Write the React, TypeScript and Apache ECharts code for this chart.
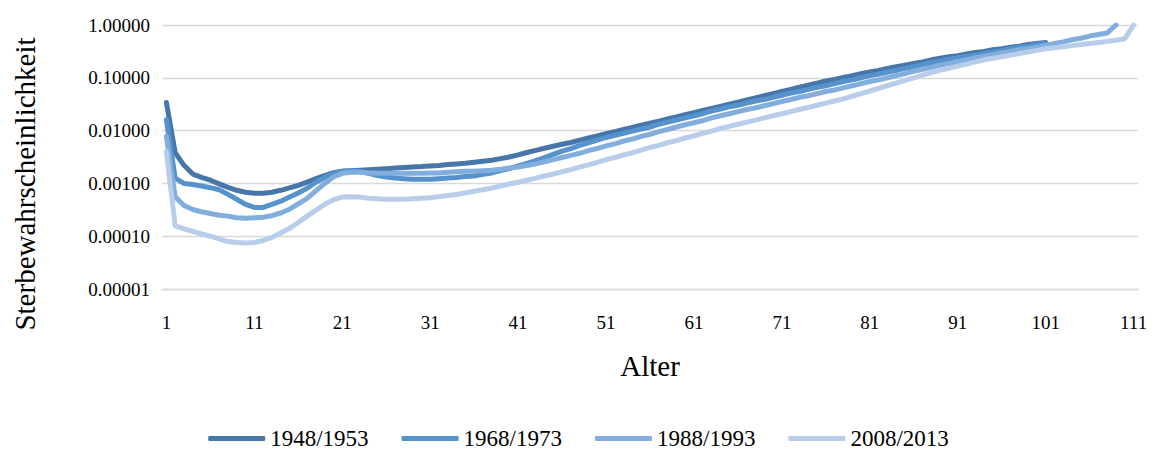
import React, { useEffect, useRef } from "react";
import * as echarts from "echarts";

const ages: string[] = Array.from({ length: 111 }, (_, i) => String(i + 1));

const seriesNames = ["1948/1953", "1968/1973", "1988/1993", "2008/2013"];
const seriesColors = ["#4676AA", "#5693CC", "#82AEDD", "#B7CDEA"];

const s1948 = [
  0.034, 0.0038, 0.0022, 0.0015, 0.0013, 0.00115, 0.00098, 0.00084, 0.00074, 0.00068,
  0.00065, 0.00065, 0.00068, 0.00074, 0.00082, 0.00092, 0.00106, 0.00123, 0.00141, 0.0016,
  0.0017, 0.00174, 0.00178, 0.00182, 0.00186, 0.0019, 0.00195, 0.002, 0.00204, 0.00208,
  0.00214, 0.00219, 0.00229, 0.00234, 0.0024, 0.00251, 0.00263, 0.00275, 0.00295, 0.00316,
  0.00347, 0.00385, 0.00422, 0.00462, 0.00505, 0.0055, 0.00595, 0.00661, 0.00724, 0.00794,
  0.0087, 0.0095, 0.0105, 0.0115, 0.0126, 0.0138, 0.0151, 0.0166, 0.0182, 0.02,
  0.0219, 0.024, 0.0263, 0.0288, 0.0316, 0.0347, 0.038, 0.0417, 0.0457, 0.0501,
  0.055, 0.0603, 0.0661, 0.0724, 0.0794, 0.0871, 0.0933, 0.102, 0.11, 0.12,
  0.129, 0.138, 0.151, 0.162, 0.174, 0.186, 0.2, 0.219, 0.234, 0.251,
  0.263, 0.282, 0.302, 0.316, 0.339, 0.355, 0.38, 0.398, 0.427, 0.447,
  0.468,
];

const s1968 = [
  0.016, 0.00126, 0.001, 0.00095, 0.00089, 0.00083, 0.00076, 0.00062, 0.0005, 0.0004,
  0.00035, 0.00035, 0.0004, 0.00046, 0.00055, 0.00066, 0.00081, 0.00105, 0.00129, 0.00155,
  0.0017, 0.00174, 0.0017, 0.00155, 0.00141, 0.00132, 0.00126, 0.00123, 0.0012, 0.0012,
  0.0012, 0.00123, 0.00126, 0.00129, 0.00135, 0.00138, 0.00148, 0.00158, 0.00174, 0.00191,
  0.00214, 0.0024, 0.00269, 0.00309, 0.00355, 0.00407, 0.00457, 0.00525, 0.00589, 0.00661,
  0.00741, 0.00813, 0.00891, 0.00977, 0.0107, 0.0117, 0.0132, 0.0145, 0.0158, 0.0174,
  0.0191, 0.0209, 0.0234, 0.0257, 0.0282, 0.0302, 0.0331, 0.0363, 0.0389, 0.0427,
  0.0468, 0.0513, 0.055, 0.0603, 0.0661, 0.0708, 0.0776, 0.0851, 0.0912, 0.1,
  0.11, 0.117, 0.129, 0.138, 0.151, 0.162, 0.178, 0.191, 0.209, 0.224,
  0.24, 0.257, 0.269, 0.288, 0.309, 0.331, 0.355, 0.38, 0.398, 0.427,
  0.447,
];

const s1988 = [
  0.0078, 0.00056, 0.00038, 0.00032, 0.00029, 0.00027, 0.00025, 0.00024, 0.000224, 0.000219,
  0.000224, 0.000229, 0.000245, 0.000275, 0.000324, 0.00041, 0.00052, 0.00072, 0.001, 0.00132,
  0.00155, 0.00162, 0.00162, 0.00158, 0.00158, 0.00155, 0.00155, 0.00155, 0.00155, 0.00155,
  0.00158, 0.00158, 0.00162, 0.00166, 0.0017, 0.0017, 0.00174, 0.00178, 0.00186, 0.00195,
  0.00204, 0.00219, 0.00234, 0.00257, 0.00282, 0.00309, 0.00339, 0.00372, 0.00417, 0.00457,
  0.00513, 0.00562, 0.00631, 0.00692, 0.00776, 0.00851, 0.00955, 0.0105, 0.0117, 0.0129,
  0.0141, 0.0155, 0.0174, 0.0191, 0.0209, 0.0229, 0.0251, 0.0269, 0.0295, 0.0324,
  0.0355, 0.0389, 0.0427, 0.0457, 0.0501, 0.055, 0.0589, 0.0646, 0.0708, 0.0776,
  0.0851, 0.0912, 0.1, 0.11, 0.12, 0.132, 0.145, 0.158, 0.174, 0.186,
  0.204, 0.219, 0.24, 0.257, 0.275, 0.295, 0.316, 0.339, 0.355, 0.38,
  0.407, 0.447, 0.479, 0.525, 0.562, 0.617, 0.661, 0.708, 1.0,
];

const s2008 = [
  0.004, 0.000158, 0.000138, 0.000123, 0.00011, 0.0001, 0.000089, 0.000079, 0.000076, 0.000074,
  0.000076, 0.000083, 0.000095, 0.000115, 0.000141, 0.000182, 0.00024, 0.00031, 0.0004, 0.00049,
  0.00055, 0.00056, 0.00055, 0.000525, 0.000513, 0.0005, 0.0005, 0.0005, 0.000513, 0.000525,
  0.000537, 0.000562, 0.000589, 0.000617, 0.000661, 0.000708, 0.000759, 0.000813, 0.000891, 0.000977,
  0.00105, 0.00115, 0.00126, 0.00138, 0.00151, 0.00166, 0.00182, 0.00204, 0.00224, 0.00251,
  0.00282, 0.00309, 0.00347, 0.0038, 0.00427, 0.00479, 0.00525, 0.00589, 0.00646, 0.00724,
  0.00794, 0.00891, 0.00977, 0.011, 0.012, 0.0132, 0.0145, 0.0158, 0.0174, 0.0191,
  0.0209, 0.0229, 0.0251, 0.0275, 0.0302, 0.0331, 0.0363, 0.0398, 0.0447, 0.0501,
  0.0562, 0.0631, 0.0708, 0.0794, 0.0891, 0.1, 0.112, 0.126, 0.138, 0.151,
  0.166, 0.182, 0.2, 0.219, 0.234, 0.251, 0.269, 0.288, 0.309, 0.331,
  0.355, 0.372, 0.389, 0.407, 0.427, 0.447, 0.468, 0.49, 0.513, 0.55,
  1.0,
];

const allSeries = [s1948, s1968, s1988, s2008];

const FONT = "'Liberation Serif', 'DejaVu Serif', serif";

export default function App() {
  const ref = useRef<HTMLDivElement>(null);

  useEffect(() => {
    document.body.style.margin = "0";
    if (!ref.current) return;
    const chart = echarts.init(ref.current, undefined, { renderer: "svg" });

    const pad = (arr: number[]) =>
      ages.map((_, i) => (i < arr.length ? arr[i] : null));

    chart.setOption({
      animation: false,
      backgroundColor: "#ffffff",
      textStyle: { fontFamily: FONT, color: "#000" },
      grid: { left: 162, right: 19, top: 25, bottom: 161, containLabel: false },
      legend: {
        data: seriesNames,
        left: "center",
        top: 427,
        padding: 0,
        itemWidth: 57,
        itemHeight: 5,
        itemGap: 33,
        icon: "roundRect",
        textStyle: { fontFamily: FONT, fontSize: 23, lineHeight: 22, color: "#000" },
      },
      xAxis: {
        type: "category",
        data: ages,
        boundaryGap: true,
        name: "Alter",
        nameLocation: "middle",
        nameGap: 62,
        nameTextStyle: { fontFamily: FONT, fontSize: 29, color: "#000" },
        axisTick: { show: false },
        axisLine: { show: true, lineStyle: { color: "#d9d9d9", width: 1.3 } },
        axisLabel: {
          interval: (index: number) => index % 10 === 0,
          margin: 24,
          fontFamily: FONT,
          fontSize: 19,
          color: "#000",
        },
        splitLine: { show: false },
      },
      yAxis: {
        type: "log",
        logBase: 10,
        min: 0.00001,
        max: 1,
        splitNumber: 5,
        axisLine: { show: false },
        axisTick: { show: false },
        axisLabel: {
          formatter: (v: number) => v.toFixed(5),
          margin: 12,
          fontFamily: FONT,
          fontSize: 19,
          color: "#000",
        },
        splitLine: { show: true, lineStyle: { color: "#d9d9d9", width: 1.3 } },
      },
      graphic: [
        {
          type: "text",
          x: 25,
          y: 184,
          rotation: Math.PI / 2,
          style: {
            text: "Sterbewahrscheinlichkeit",
            fontFamily: FONT,
            fontSize: 29,
            fill: "#000",
            textAlign: "center",
            textVerticalAlign: "middle",
          },
        },
      ],
      series: allSeries.map((arr, k) => ({
        name: seriesNames[k],
        type: "line",
        data: pad(arr),
        showSymbol: false,
        symbol: "none",
        connectNulls: false,
        smooth: false,
        color: seriesColors[k],
        lineStyle: { width: 5, color: seriesColors[k], cap: "round", join: "round" },
        itemStyle: { color: seriesColors[k] },
      })),
    });

    return () => chart.dispose();
  }, []);

  return <div ref={ref} style={{ width: 1157, height: 450 }} />;
}
